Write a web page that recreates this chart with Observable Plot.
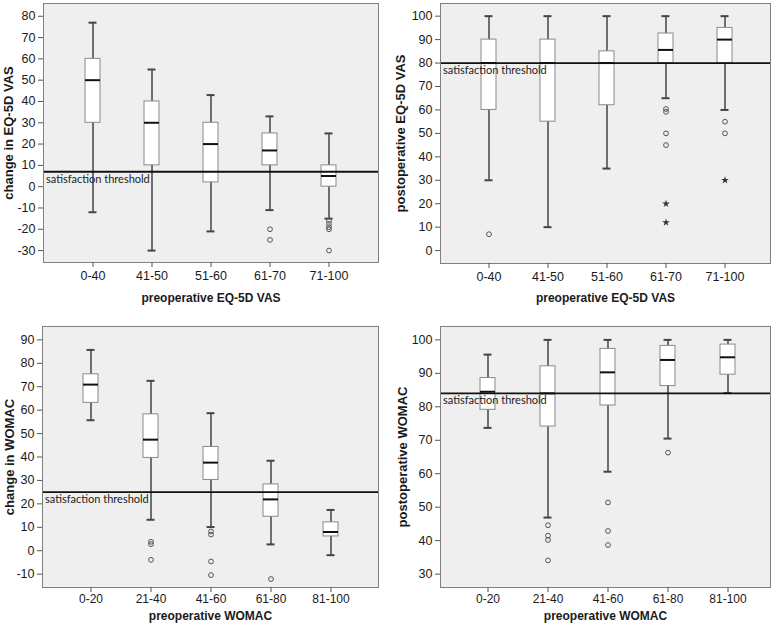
<!DOCTYPE html>
<html>
<head>
<meta charset="utf-8">
<script src="https://cdn.jsdelivr.net/npm/d3@7"></script>
<script src="https://cdn.jsdelivr.net/npm/@observablehq/plot@0.6"></script>
<style>
  body { margin: 0; background: #fff; }
  #wrap { position: relative; width: 778px; height: 631px; background: #fff; overflow: hidden; }
  #wrap svg { position: absolute; }
</style>
</head>
<body>
<div id="wrap"></div>
<script>
// ---------- Panel A: change in EQ-5D VAS ----------
const vasGroups = ["0-40", "41-50", "51-60", "61-70", "71-100"];
const vasChangeLow  = [-12, -30, -21, -11, -15];
const vasChangeQ1   = [30, 10, 2, 10, 0];
const vasChangeMed  = [50, 30, 20, 17, 5];
const vasChangeQ3   = [60, 40, 30, 25, 10];
const vasChangeHigh = [77, 55, 43, 33, 25];
const vasChangeOutGroup = ["61-70", "61-70", "71-100", "71-100", "71-100", "71-100", "71-100"];
const vasChangeOutValue = [-20, -25, -16, -17.5, -19, -20, -30];
const vasChangeThreshold = 7;
const vasChangeTicks = [-30, -20, -10, 0, 10, 20, 30, 40, 50, 60, 70, 80];

// ---------- Panel B: postoperative EQ-5D VAS ----------
const vasPostLow  = [30, 10, 35, 65, 60];
const vasPostQ1   = [60, 55, 62, 80, 80];
const vasPostMed  = [80, 80, 80, 85.6, 90];
const vasPostQ3   = [90, 90, 85, 92.6, 95];
const vasPostHigh = [100, 100, 100, 100, 100];
const vasPostOutGroup = ["0-40", "61-70", "61-70", "61-70", "61-70", "71-100", "71-100"];
const vasPostOutValue = [7, 60.4, 59.2, 50, 45, 55, 50];
const vasPostStarGroup = ["61-70", "61-70", "71-100"];
const vasPostStarValue = [20, 12, 30];
const vasPostThreshold = 80;
const vasPostTicks = [0, 10, 20, 30, 40, 50, 60, 70, 80, 90, 100];

// ---------- Panel C: change in WOMAC ----------
const womacGroups = ["0-20", "21-40", "41-60", "61-80", "81-100"];
const womacChangeLow  = [55.7, 13.2, 10.1, 2.7, -1.9];
const womacChangeQ1   = [63.1, 39.6, 30.2, 14.5, 6.1];
const womacChangeMed  = [70.9, 47.4, 37.6, 21.9, 8];
const womacChangeQ3   = [75.3, 58.2, 44.3, 28.3, 12.1];
const womacChangeHigh = [85.7, 72.5, 58.7, 38.4, 17.4];
const womacChangeOutGroup = ["21-40", "21-40", "21-40", "41-60", "41-60", "41-60", "41-60", "61-80"];
const womacChangeOutValue = [3.8, 2.8, -3.9, 8.2, 6.9, -4.6, -10.4, -12.1];
const womacChangeThreshold = 25;
const womacChangeTicks = [-10, 0, 10, 20, 30, 40, 50, 60, 70, 80, 90];

// ---------- Panel D: postoperative WOMAC ----------
const womacPostLow  = [73.7, 46.9, 60.6, 70.5, 84.1];
const womacPostQ1   = [79.1, 74.1, 80.4, 86.2, 89.6];
const womacPostMed  = [84.5, 84, 90.3, 94, 94.8];
const womacPostQ3   = [88.6, 92.1, 97.3, 98.2, 98.6];
const womacPostHigh = [95.6, 100, 100, 100, 100];
const womacPostOutGroup = ["21-40", "21-40", "21-40", "21-40", "41-60", "41-60", "41-60", "61-80"];
const womacPostOutValue = [44.6, 41.5, 40.2, 34.1, 51.4, 42.9, 38.7, 66.3];
const womacPostThreshold = 84;
const womacPostTicks = [30, 40, 50, 60, 70, 80, 90, 100];

const FONT = "'Liberation Sans', Arial, Helvetica, sans-serif";

function panel(cfg) {
  const stats = cfg.groups.map((g, i) => ({
    g, low: cfg.low[i], q1: cfg.q1[i], med: cfg.med[i], q3: cfg.q3[i], high: cfg.high[i]
  }));
  const outs = cfg.outGroup.map((g, i) => ({g, v: cfg.outValue[i]}));
  const stars = (cfg.starGroup || []).map((g, i) => ({g, v: cfg.starValue[i]}));
  const svg = Plot.plot({
    width: cfg.width, height: cfg.height,
    marginLeft: cfg.ml, marginRight: cfg.mr, marginTop: cfg.mt, marginBottom: cfg.mb,
    style: {fontFamily: FONT, fontSize: "12.5px", color: "#1a1a1a", background: "transparent", overflow: "visible"},
    x: {type: "band", domain: cfg.groups, paddingInner: 0.75, paddingOuter: cfg.po, align: cfg.align ?? 0.5},
    y: {domain: cfg.yDomain},
    marks: [
      Plot.frame({fill: "#efefef", stroke: null}),
      Plot.ruleX(stats, {x: "g", y1: "low", y2: "high", stroke: "#444", strokeWidth: 1.5}),
      Plot.barY(stats, {x: "g", y1: "q1", y2: "q3", fill: "#fff", stroke: "#8a8a8a", strokeWidth: 1, inset: 0}),
      Plot.tickY(stats, {x: "g", y: "med", stroke: "#111", strokeWidth: 2}),
      Plot.tickY(stats, {x: "g", y: "low", stroke: "#444", strokeWidth: 2, insetLeft: 3.5, insetRight: 3.5}),
      Plot.tickY(stats, {x: "g", y: "high", stroke: "#444", strokeWidth: 2, insetLeft: 3.5, insetRight: 3.5}),
      Plot.dot(outs, {x: "g", y: "v", r: 2.4, stroke: "#555", strokeWidth: 1, fill: "none"}),
      Plot.dot(stars, {x: "g", y: "v", symbol: "star", r: 2.4, fill: "#333", stroke: "none"}),
      Plot.ruleY([cfg.threshold], {stroke: "#111", strokeWidth: 1.8}),
      Plot.text([cfg.threshold], {y: d => d, frameAnchor: "left", dx: 2.5, dy: 3, lineAnchor: "top", textAnchor: "start",
        text: () => "satisfaction threshold", fontFamily: "Lato, 'Open Sans', sans-serif", fontSize: 11, fill: "#222"}),
      Plot.frame({stroke: "#808080", strokeWidth: 1}),
      Plot.axisY({ticks: cfg.yTicks, tickFormat: d => String(d), tickSize: 5, tickPadding: 3, stroke: "#555", label: null}),
      Plot.axisX({tickSize: 5, tickPadding: cfg.xtp, stroke: "#555", label: null, fontSize: cfg.xfs}),
      Plot.text([cfg.yLabel], {text: d => d, frameAnchor: "left", rotate: -90, textAnchor: "middle", lineAnchor: "top",
        dx: -cfg.ylo, fontWeight: "bold", fontSize: 13, fill: "#1a1a1a"}),
      Plot.text([cfg.xLabel], {text: d => d, frameAnchor: "bottom", textAnchor: "middle", lineAnchor: "middle",
        dy: cfg.xlo, fontWeight: "bold", fontSize: 12, fill: "#1a1a1a"})
    ]
  });
  svg.style.left = cfg.left + "px";
  svg.style.top = cfg.top + "px";
  return svg;
}

const wrap = document.getElementById("wrap");

wrap.appendChild(panel({
  groups: vasGroups, low: vasChangeLow, q1: vasChangeQ1, med: vasChangeMed, q3: vasChangeQ3, high: vasChangeHigh,
  outGroup: vasChangeOutGroup, outValue: vasChangeOutValue, threshold: vasChangeThreshold,
  yDomain: [-35.6, 86], yTicks: vasChangeTicks,
  yLabel: "change in EQ-5D VAS", xLabel: "preoperative EQ-5D VAS",
  width: 389, height: 312, ml: 43, mr: 11, mt: 3, mb: 50, po: 0.678, ylo: 40, xlo: 35.5, xtp: 4, xfs: 12.5,
  left: 0, top: 0
}));

wrap.appendChild(panel({
  groups: vasGroups, low: vasPostLow, q1: vasPostQ1, med: vasPostMed, q3: vasPostQ3, high: vasPostHigh,
  outGroup: vasPostOutGroup, outValue: vasPostOutValue, starGroup: vasPostStarGroup, starValue: vasPostStarValue,
  threshold: vasPostThreshold,
  yDomain: [-5.5, 105.4], yTicks: vasPostTicks,
  yLabel: "postoperative EQ-5D VAS", xLabel: "preoperative EQ-5D VAS",
  width: 389, height: 312, ml: 51, mr: 8, mt: 3, mb: 49, po: 0.643, align: 0.52, ylo: 45, xlo: 35, xtp: 4, xfs: 12.5,
  left: 389, top: 0
}));

wrap.appendChild(panel({
  groups: womacGroups, low: womacChangeLow, q1: womacChangeQ1, med: womacChangeMed, q3: womacChangeQ3, high: womacChangeHigh,
  outGroup: womacChangeOutGroup, outValue: womacChangeOutValue, threshold: womacChangeThreshold,
  yDomain: [-15.7, 95.7], yTicks: womacChangeTicks,
  yLabel: "change in WOMAC", xLabel: "preoperative WOMAC",
  width: 389, height: 316, ml: 42, mr: 11, mt: 11, mb: 44, po: 0.666, ylo: 38, xlo: 28.5, xtp: 2, xfs: 12,
  left: 0, top: 315
}));

wrap.appendChild(panel({
  groups: womacGroups, low: womacPostLow, q1: womacPostQ1, med: womacPostMed, q3: womacPostQ3, high: womacPostHigh,
  outGroup: womacPostOutGroup, outValue: womacPostOutValue, threshold: womacPostThreshold,
  yDomain: [26, 104], yTicks: womacPostTicks,
  yLabel: "postoperative WOMAC", xLabel: "preoperative WOMAC",
  width: 389, height: 316, ml: 51, mr: 8, mt: 11, mb: 44, po: 0.616, align: 0.53, ylo: 43, xlo: 28.5, xtp: 2, xfs: 12,
  left: 389, top: 315
}));
</script>
</body>
</html>
